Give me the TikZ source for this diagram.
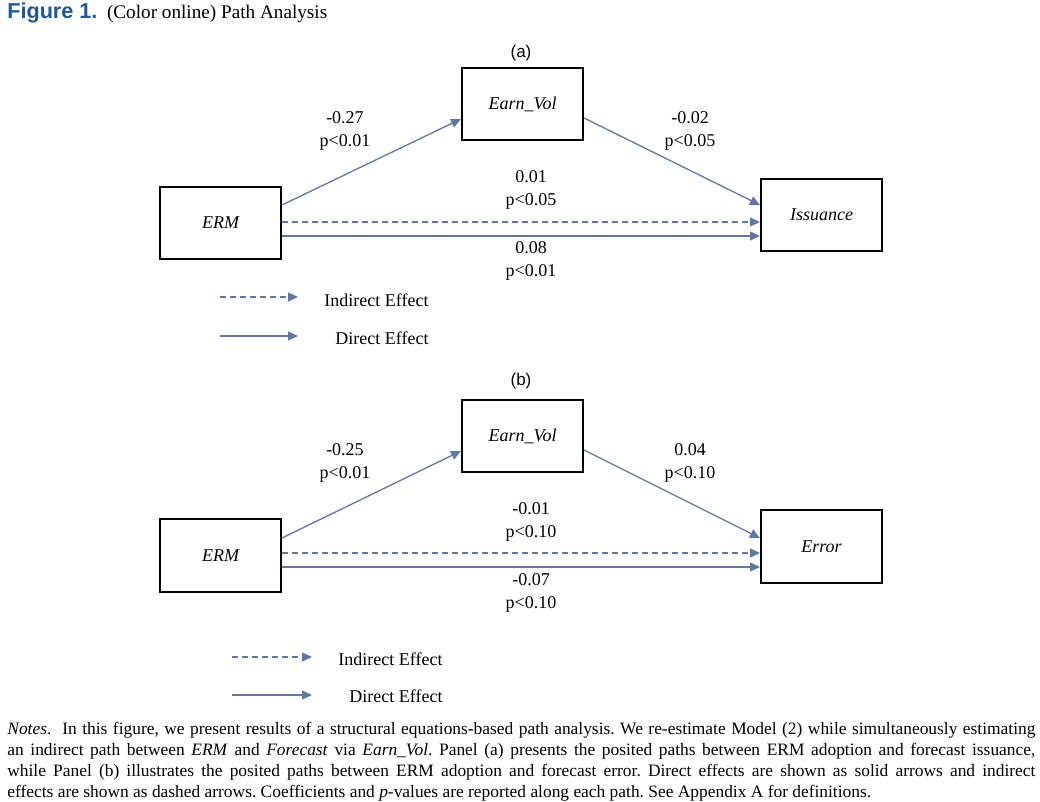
\documentclass[tikz,border=0pt]{standalone}
\usepackage{fontspec}
\setmainfont{Liberation Serif}
\newfontfamily\headfont{Liberation Sans}
\usetikzlibrary{arrows.meta}
\definecolor{pathblue}{RGB}{98,118,168}
\definecolor{figblue}{RGB}{31,86,160}
\tikzstyle{varbox}=[draw,rectangle,black,line width=1pt,minimum width=60.5pt,minimum height=36pt,inner sep=0pt,font=\fontsize{9}{11}\selectfont\itshape]
\tikzstyle{coef}=[align=center,inner sep=0pt,font=\fontsize{9}{11.5}\selectfont]
\tikzstyle{legend}=[anchor=west,inner sep=0pt,font=\fontsize{9}{11}\selectfont]
\tikzstyle{effect}=[pathblue,line width=0.65pt,-{Triangle[length=5pt,width=4.5pt]}]
\tikzstyle{indirect}=[effect,dash pattern=on 3pt off 2pt]

\begin{document}
\begin{tikzpicture}[x=0.5pt,y=-0.5pt]%
	\useasboundingbox (0,0) rectangle (1040,802);

	\draw (7,19) node (Title) [anchor=base west,inner sep=0pt,font=\fontsize{9.6}{12}\selectfont]
		{{\headfont\bfseries\fontsize{10.8}{12}\selectfont\color{figblue}Figure 1.}\ \ (Color online) Path Analysis};

	% panel (a)
	\begin{scope}
		\draw (521,53) node (PanelA) [font=\headfont\fontsize{8.5}{10}\selectfont] {(a)};
		\draw (522.5,104) node (VolA) [varbox] {Earn\_Vol};
		\draw (220.5,223) node (ErmA) [varbox] {ERM};
		\draw (821.5,215) node (IssA) [varbox] {Issuance};

		\draw [effect] ([yshift=9pt]ErmA.east) -- ([yshift=-7.5pt]VolA.west);
		\draw [effect] ([yshift=-7pt]VolA.east) -- ([yshift=5pt]IssA.west);
		\draw [indirect] ([yshift=0.5pt]ErmA.east) -- ([yshift=0.5pt]ErmA.east -| IssA.west);
		\draw [effect] ([yshift=-6.5pt]ErmA.east) -- ([yshift=-6.5pt]ErmA.east -| IssA.west);

		\draw (345,131) node (CoefA1) [coef] {-0.27\\p<0.01};
		\draw (690,131) node (CoefA2) [coef] {-0.02\\p<0.05};
		\draw (531,190) node (CoefA3) [coef] {0.01\\p<0.05};
		\draw (531,261) node (CoefA4) [coef] {0.08\\p<0.01};

		\coordinate (IndA_s) at (220,297);
		\coordinate (IndA_e) at (298,297);
		\coordinate (DirA_s) at (220,336);
		\coordinate (DirA_e) at (298,336);
		\draw [indirect] (IndA_s) -- (IndA_e);
		\draw [effect] (DirA_s) -- (DirA_e);
		\draw (324,300) node (IndA_txt) [legend] {Indirect Effect};
		\draw (335,338) node (DirA_txt) [legend] {Direct Effect};
	\end{scope}

	% panel (b)
	\begin{scope}
		\draw (521,381) node (PanelB) [font=\headfont\fontsize{8.5}{10}\selectfont] {(b)};
		\draw (522.5,436) node (VolB) [varbox] {Earn\_Vol};
		\draw (220.5,555.5) node (ErmB) [varbox] {ERM};
		\draw (821.5,546.5) node (ErrB) [varbox] {Error};

		\draw [effect] ([yshift=8.75pt]ErmB.east) -- ([yshift=-7.5pt]VolB.west);
		\draw [effect] ([yshift=-7pt]VolB.east) -- ([yshift=4.25pt]ErrB.west);
		\draw [indirect] ([yshift=1.25pt]ErmB.east) -- ([yshift=1.25pt]ErmB.east -| ErrB.west);
		\draw [effect] ([yshift=-5.75pt]ErmB.east) -- ([yshift=-5.75pt]ErmB.east -| ErrB.west);

		\draw (345,463) node (CoefB1) [coef] {-0.25\\p<0.01};
		\draw (690,463) node (CoefB2) [coef] {0.04\\p<0.10};
		\draw (531,521.5) node (CoefB3) [coef] {-0.01\\p<0.10};
		\draw (531,593) node (CoefB4) [coef] {-0.07\\p<0.10};

		\coordinate (IndB_s) at (232,657);
		\coordinate (IndB_e) at (312,657);
		\coordinate (DirB_s) at (232,695);
		\coordinate (DirB_e) at (312,695);
		\draw [indirect] (IndB_s) -- (IndB_e);
		\draw [effect] (DirB_s) -- (DirB_e);
		\draw (338,659) node (IndB_txt) [legend] {Indirect Effect};
		\draw (349,696.5) node (DirB_txt) [legend] {Direct Effect};
	\end{scope}

	\draw (7,722) node (Notes) [anchor=north west,inner sep=0pt,text width=514pt,align=justify,font=\fontsize{8.7}{10.4}\selectfont\frenchspacing]
		{\textit{Notes}.\ \ In this figure, we present results of a structural equations-based path analysis. We re-estimate Model (2) while simultaneously estimating\linebreak
		an indirect path between \textit{ERM} and \textit{Forecast} via \textit{Earn\_Vol}. Panel (a) presents the posited paths between ERM adoption and forecast issuance,\linebreak
		while Panel (b) illustrates the posited paths between ERM adoption and forecast error. Direct effects are shown as solid arrows and indirect\linebreak
		effects are shown as dashed arrows. Coefficients and \textit{p}-values are reported along each path. See Appendix A for definitions.};

\end{tikzpicture}
\end{document}
